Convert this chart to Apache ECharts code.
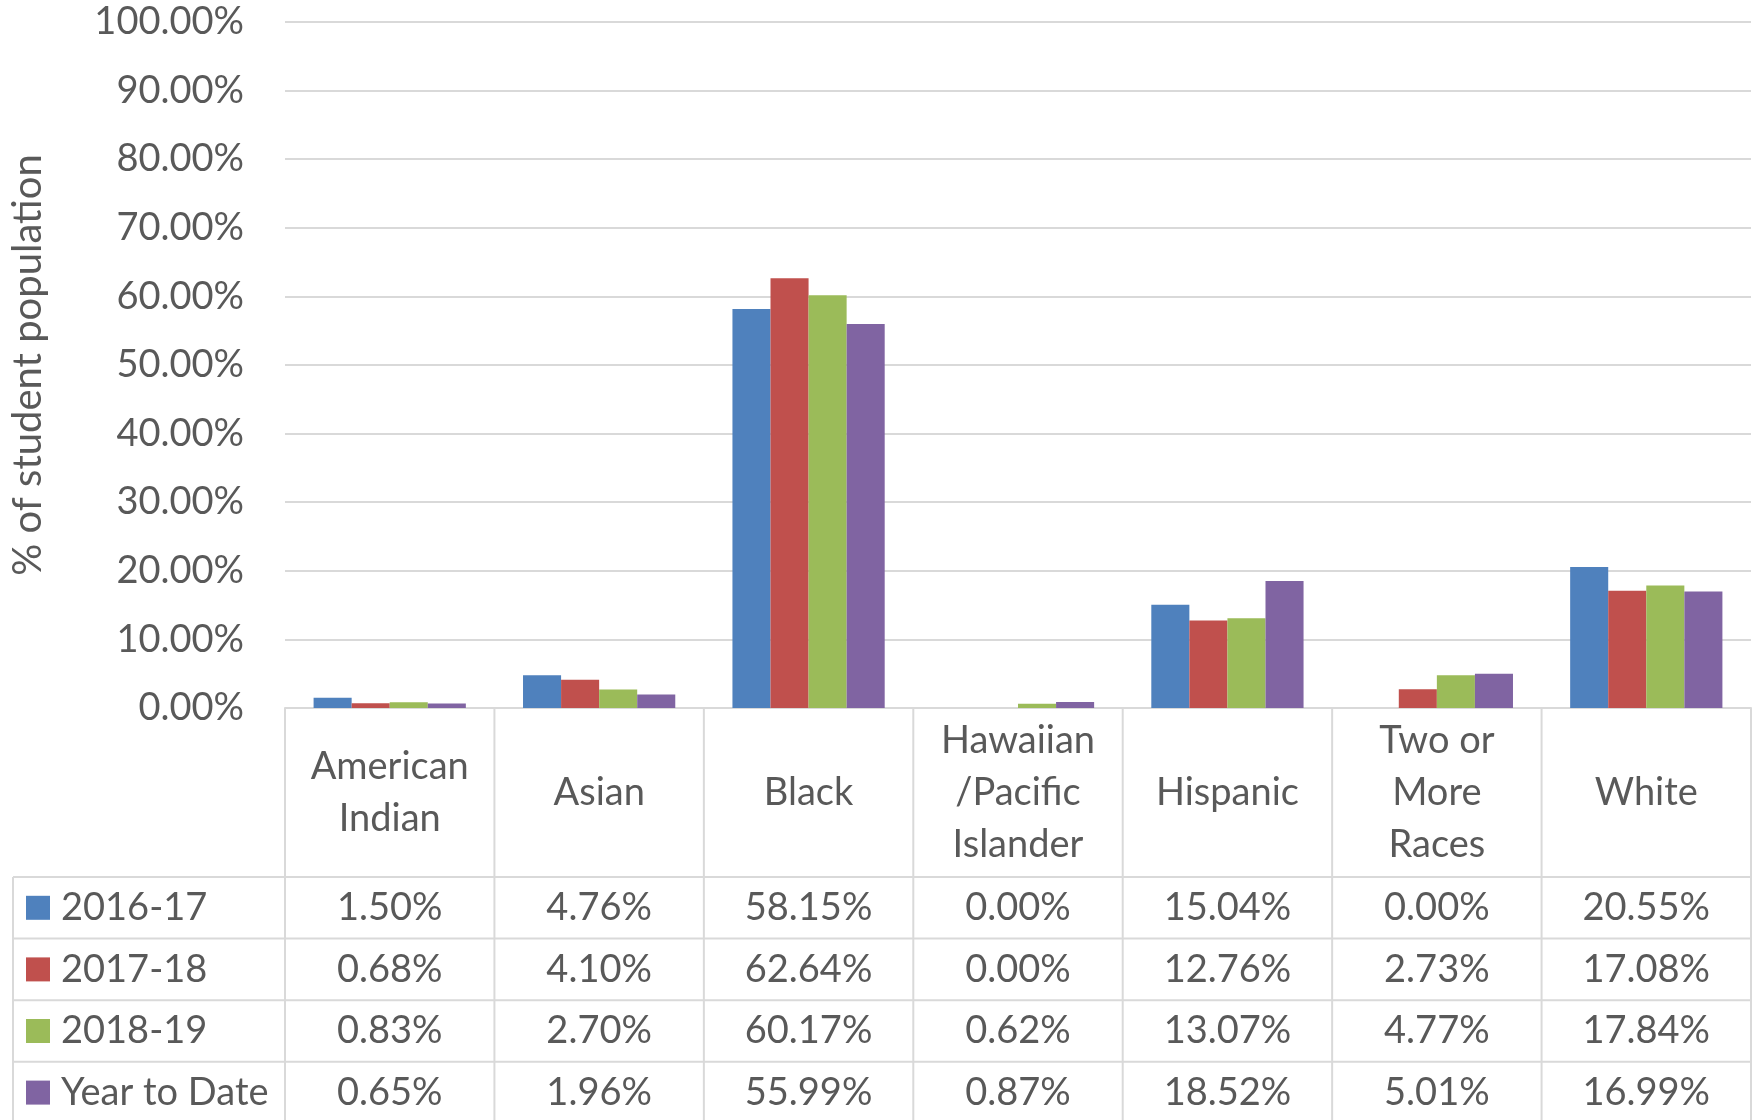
<!DOCTYPE html>
<html>
<head>
<meta charset="utf-8">
<script src="https://cdn.jsdelivr.net/npm/echarts@6/dist/echarts.min.js"></script>
<style>
  html, body { margin: 0; padding: 0; background: #ffffff; }
  #chart { width: 1756px; height: 1120px; }
</style>
</head>
<body>
<div id="chart"></div>
<script>
// Student population by race/ethnicity, percent per school year
const categories = ['American\nIndian', 'Asian', 'Black', 'Hawaiian\n/Pacific\nIslander', 'Hispanic', 'Two or\nMore\nRaces', 'White'];
const seriesNames = ['2016-17', '2017-18', '2018-19', 'Year to Date'];
const values2016 = [1.50, 4.76, 58.15, 0.00, 15.04, 0.00, 20.55];
const values2017 = [0.68, 4.10, 62.64, 0.00, 12.76, 2.73, 17.08];
const values2018 = [0.83, 2.70, 60.17, 0.62, 13.07, 4.77, 17.84];
const valuesYTD = [0.65, 1.96, 55.99, 0.87, 18.52, 5.01, 16.99];
const yAxisTitle = '% of student population';

const seriesValues = [values2016, values2017, values2018, valuesYTD];
const colors = ['#4F81BD', '#C0504D', '#9BBB59', '#8064A2'];
const textColor = '#595959';
const lineColor = '#D9D9D9';
const fontFamily = 'Lato, "Open Sans", sans-serif';
const fontSize = 38;

const chart = echarts.init(document.getElementById('chart'), null, { renderer: 'canvas' });

const option = {
  animation: false,
  backgroundColor: '#ffffff',
  grid: { left: 283, right: 5, top: 22, bottom: 412, containLabel: false },
  xAxis: {
    type: 'category',
    data: categories,
    axisLine: { show: true, lineStyle: { color: lineColor, width: 2 } },
    axisTick: { show: false },
    axisLabel: {
      interval: 0,
      margin: 85,
      verticalAlign: 'middle',
      color: textColor,
      fontFamily: fontFamily,
      fontSize: fontSize,
      lineHeight: 52
    },
    splitLine: { show: false }
  },
  yAxis: {
    type: 'value',
    min: 0,
    max: 100,
    interval: 10,
    name: yAxisTitle,
    nameLocation: 'middle',
    nameGap: 237,
    nameTextStyle: { color: textColor, fontFamily: fontFamily, fontSize: 40 },
    axisLine: { show: false },
    axisTick: { show: false },
    axisLabel: {
      margin: 41,
      color: textColor,
      fontFamily: fontFamily,
      fontSize: fontSize,
      formatter: v => v.toFixed(2) + '%'
    },
    splitLine: { lineStyle: { color: lineColor, width: 2 } }
  },
  series: seriesNames.map((name, i) => ({
    name: name,
    type: 'bar',
    data: seriesValues[i],
    barGap: '0%',
    barCategoryGap: '27.3%',
    itemStyle: { color: colors[i] }
  }))
};

chart.setOption(option);

// Data table under the plot: grid lines, legend keys and cell values
const cx0 = chart.convertToPixel({ xAxisIndex: 0 }, 0);
const cx1 = chart.convertToPixel({ xAxisIndex: 0 }, 1);
const band = cx1 - cx0;
const colLeft = cx0 - band / 2;
const colRight = colLeft + band * categories.length;
const axisY = chart.convertToPixel({ yAxisIndex: 0 }, 0);
const headerH = 169;
const rowH = 61.6;
const tableLeft = 13;
const tableTop = axisY + headerH;
const tableBottom = tableTop + rowH * seriesNames.length;

const elements = [];
const lineStyle = { stroke: lineColor, lineWidth: 2 };

for (let k = 0; k <= categories.length; k++) {
  const x = colLeft + k * band;
  elements.push({ type: 'line', shape: { x1: x, y1: axisY, x2: x, y2: tableBottom }, style: lineStyle, silent: true });
}
elements.push({ type: 'line', shape: { x1: tableLeft, y1: tableTop, x2: tableLeft, y2: tableBottom }, style: lineStyle, silent: true });
for (let r = 0; r <= seriesNames.length; r++) {
  const y = tableTop + r * rowH;
  elements.push({ type: 'line', shape: { x1: tableLeft, y1: y, x2: colRight, y2: y }, style: lineStyle, silent: true });
}

seriesNames.forEach((name, r) => {
  const cy = tableTop + r * rowH + rowH / 2;
  elements.push({ type: 'rect', shape: { x: 26, y: cy - 12, width: 24, height: 24 }, style: { fill: colors[r] }, silent: true });
  elements.push({
    type: 'text',
    style: { text: name, x: 61, y: cy, align: 'left', verticalAlign: 'middle', fill: textColor, fontFamily: fontFamily, fontSize: fontSize },
    silent: true
  });
  seriesValues[r].forEach((v, c) => {
    elements.push({
      type: 'text',
      style: {
        text: v.toFixed(2) + '%',
        x: chart.convertToPixel({ xAxisIndex: 0 }, c),
        y: cy,
        align: 'center',
        verticalAlign: 'middle',
        fill: textColor,
        fontFamily: fontFamily,
        fontSize: fontSize
      },
      silent: true
    });
  });
});

chart.setOption({ graphic: { elements: elements } });
</script>
</body>
</html>
